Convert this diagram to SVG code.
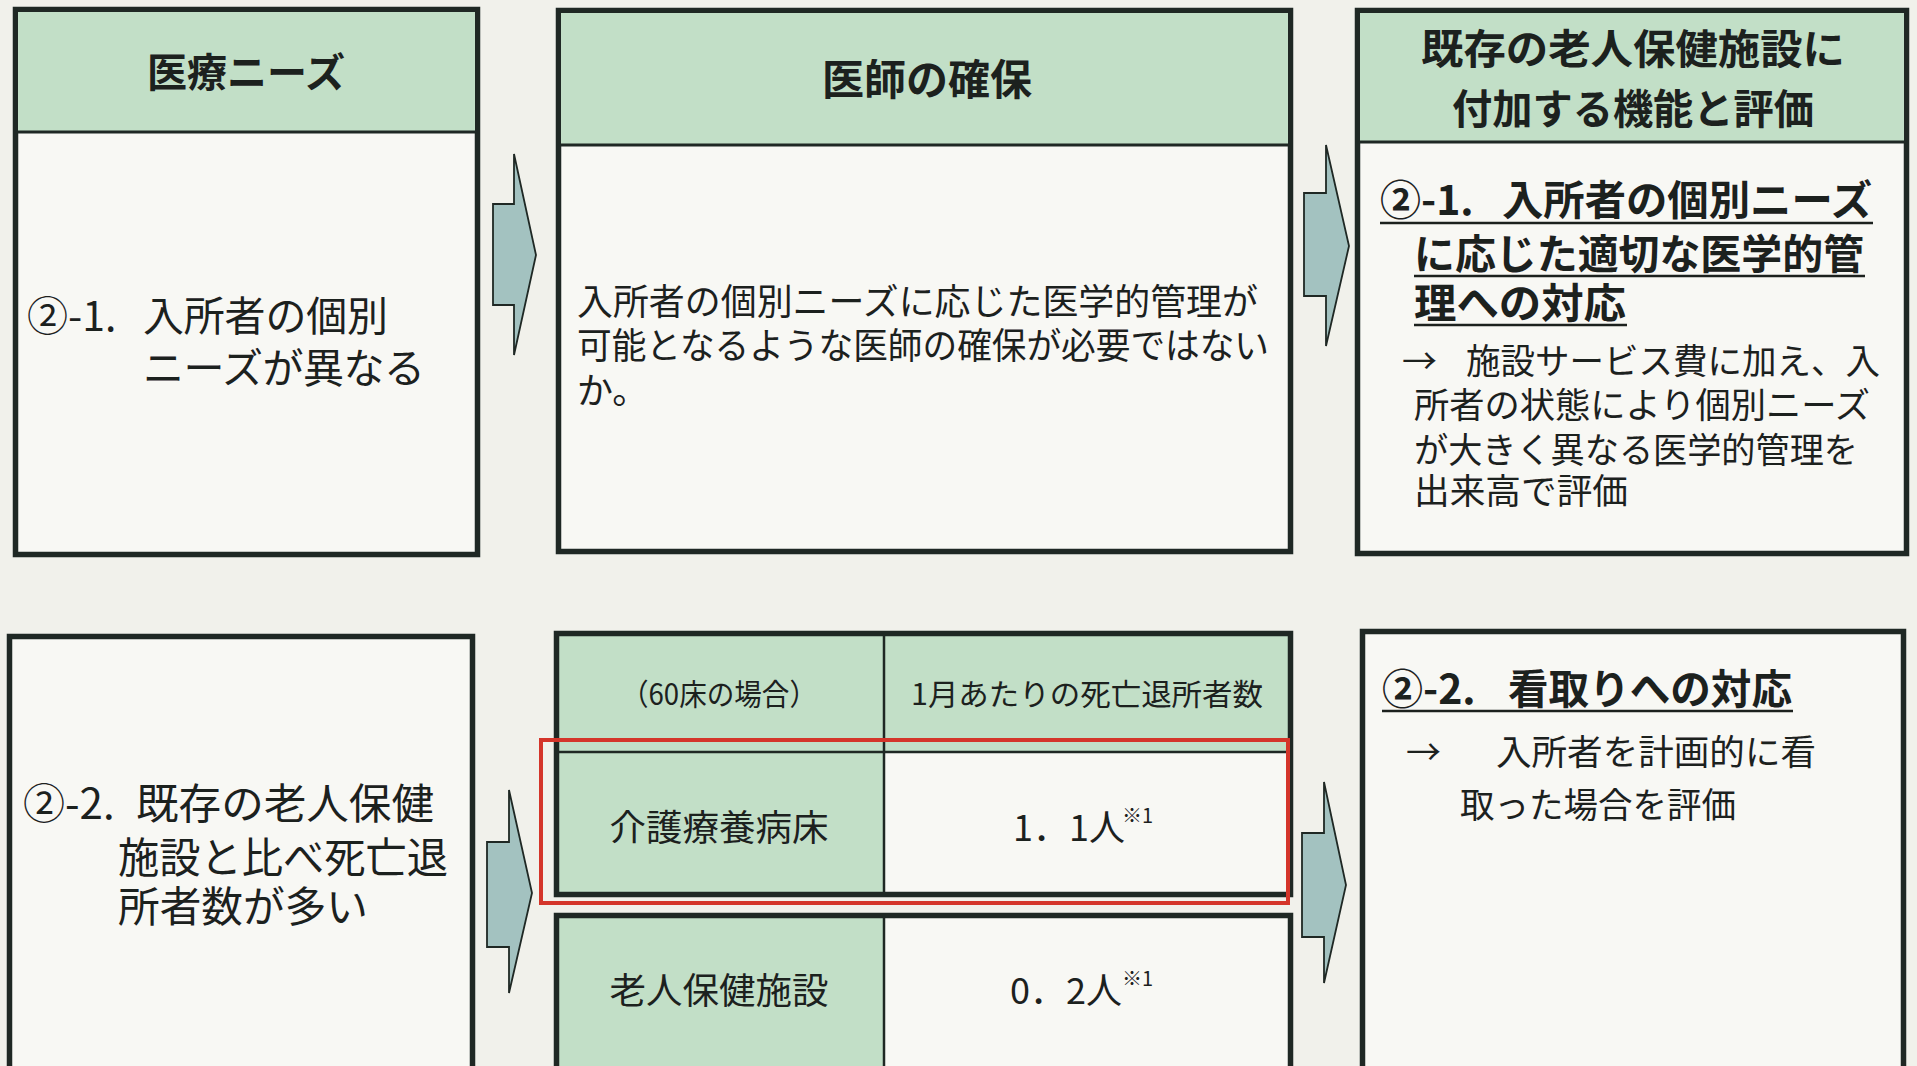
<svg xmlns="http://www.w3.org/2000/svg" width="1917" height="1066" viewBox="0 0 1917 1066">
<style>
text{font-family:"Noto Sans CJK JP","Noto Sans CJK SC",sans-serif;fill:#1c211e}
.box{fill:#f8f8f4;stroke:#1f2824;stroke-width:5.5}
.hdr{fill:#c2dfc7}
.div{stroke:#1f2824;stroke-width:3}
.thin{stroke:#1f2824;stroke-width:2.5}
.h{font-weight:bold;text-anchor:middle}
.b{font-weight:bold}
.ul{stroke:#1c211e;stroke-width:2.5}
.arrow{fill:#a3c2c0;stroke:#1f2824;stroke-width:1.8;stroke-linejoin:miter}
.cell{text-anchor:middle}
</style>
<rect x="0" y="0" width="1917" height="1066" fill="#f1f1eb"/>

<g id="node-needs1">
<rect class="box" x="15.5" y="9.5" width="462" height="545"/>
<rect class="hdr" x="18" y="12" width="457" height="119"/>
<line class="div" x1="15.5" y1="132" x2="477.5" y2="132"/>
<text class="h" x="246" y="87" font-size="40">医療ニーズ</text>
<text font-size="41"><tspan x="27" y="331">②-1.</tspan><tspan x="143" y="331" textLength="245">入所者の個別</tspan><tspan x="143" y="383" textLength="282">ニーズが異なる</tspan></text>
</g>

<g id="node-doctor">
<rect class="box" x="558.5" y="10.5" width="732" height="541"/>
<rect class="hdr" x="561" y="13" width="727" height="131"/>
<line class="div" x1="558.5" y1="145" x2="1290.5" y2="145"/>
<text class="h" x="927" y="95" font-size="42">医師の確保</text>
<text font-size="36"><tspan x="577" y="315" textLength="681" lengthAdjust="spacingAndGlyphs">入所者の個別ニーズに応じた医学的管理が</tspan><tspan x="577" y="359" textLength="692" lengthAdjust="spacingAndGlyphs">可能となるような医師の確保が必要ではない</tspan><tspan x="577" y="404">か。</tspan></text>
</g>

<g id="node-function1">
<rect class="box" x="1357.5" y="10.5" width="549" height="543"/>
<rect class="hdr" x="1360" y="13" width="544" height="128"/>
<line class="div" x1="1357.5" y1="142" x2="1906.5" y2="142"/>
<text class="h" x="1633" y="64" font-size="41" textLength="424" lengthAdjust="spacingAndGlyphs">既存の老人保健施設に</text>
<text class="h" x="1633" y="124" font-size="41" textLength="362" lengthAdjust="spacingAndGlyphs">付加する機能と評価</text>
<text class="b" font-size="41"><tspan x="1380" y="215">②-1.</tspan><tspan x="1502" y="215" textLength="370" lengthAdjust="spacingAndGlyphs">入所者の個別ニーズ</tspan><tspan x="1414" y="269" textLength="450" lengthAdjust="spacingAndGlyphs">に応じた適切な医学的管</tspan><tspan x="1414" y="318" textLength="212" lengthAdjust="spacingAndGlyphs">理への対応</tspan></text>
<line class="ul" x1="1380" y1="223" x2="1873" y2="223"/>
<line class="ul" x1="1414" y1="276" x2="1865" y2="276"/>
<line class="ul" x1="1414" y1="325" x2="1627" y2="325"/>
<text font-size="35"><tspan x="1402" y="374">→</tspan><tspan x="1466" y="374" textLength="414" lengthAdjust="spacingAndGlyphs">施設サービス費に加え、入</tspan><tspan x="1414" y="418" textLength="456" lengthAdjust="spacingAndGlyphs">所者の状態により個別ニーズ</tspan><tspan x="1414" y="463" textLength="444" lengthAdjust="spacingAndGlyphs">が大きく異なる医学的管理を</tspan><tspan x="1414" y="504" textLength="214" lengthAdjust="spacingAndGlyphs">出来高で評価</tspan></text>
</g>

<g id="node-needs2">
<rect class="box" x="9.5" y="636.5" width="463" height="450"/>
<text font-size="42"><tspan x="23" y="819">②-2.</tspan><tspan x="136" y="819" textLength="298" lengthAdjust="spacingAndGlyphs">既存の老人保健</tspan><tspan x="118" y="873" textLength="330" lengthAdjust="spacingAndGlyphs">施設と比べ死亡退</tspan><tspan x="118" y="922" textLength="250" lengthAdjust="spacingAndGlyphs">所者数が多い</tspan></text>
</g>

<g id="node-table">
<rect x="556.5" y="633.5" width="734" height="261" fill="#f8f8f4"/>
<rect class="hdr" x="556.5" y="633.5" width="734" height="118.5"/>
<rect class="hdr" x="556.5" y="752" width="327.5" height="142.5"/>
<rect x="556.5" y="633.5" width="734" height="261" fill="none" stroke="#1f2824" stroke-width="5.5"/>
<line class="thin" x1="556.5" y1="752" x2="1290.5" y2="752"/>
<line class="thin" x1="884" y1="633.5" x2="884" y2="894.5"/>
<text class="cell" x="719" y="705" font-size="30" textLength="196" lengthAdjust="spacingAndGlyphs">（60床の場合）</text>
<text class="cell" x="1087" y="705" font-size="30" textLength="352" lengthAdjust="spacingAndGlyphs">1月あたりの死亡退所者数</text>
<text class="cell" x="719" y="841" font-size="36" textLength="219" lengthAdjust="spacingAndGlyphs">介護療養病床</text>
<text x="1013" y="841" font-size="36">1．1人</text>
<text x="1122" y="823" font-size="20">※1</text>
<rect x="556.5" y="915.5" width="734" height="200" fill="#f8f8f4"/>
<rect class="hdr" x="556.5" y="915.5" width="327.5" height="200"/>
<rect x="556.5" y="915.5" width="734" height="200" fill="none" stroke="#1f2824" stroke-width="5.5"/>
<line class="thin" x1="884" y1="915.5" x2="884" y2="1066"/>
<text class="cell" x="719" y="1004" font-size="36" textLength="219" lengthAdjust="spacingAndGlyphs">老人保健施設</text>
<text x="1010" y="1004" font-size="36">0．2人</text>
<text x="1122" y="986" font-size="20">※1</text>
<rect x="541" y="740" width="747" height="163" fill="none" stroke="#d4352a" stroke-width="4"/>
</g>

<g id="node-function2">
<rect class="box" x="1362.5" y="631.5" width="541" height="450"/>
<text class="b" font-size="41"><tspan x="1382" y="704">②-2.</tspan><tspan x="1508" y="704" textLength="284" lengthAdjust="spacingAndGlyphs">看取りへの対応</tspan></text>
<line class="ul" x1="1382" y1="711" x2="1793" y2="711"/>
<text font-size="35"><tspan x="1406" y="765">→</tspan><tspan x="1496" y="765" textLength="320" lengthAdjust="spacingAndGlyphs">入所者を計画的に看</tspan><tspan x="1460" y="818" textLength="276" lengthAdjust="spacingAndGlyphs">取った場合を評価</tspan></text>
</g>

<g id="connectors">
<polygon class="arrow" points="493,204 514,204 514,154 536,255 514,355 514,305 493,305"/>
<polygon class="arrow" points="1304,193 1326,193 1326,145 1349,246 1326,346 1326,296 1304,296"/>
<polygon class="arrow" points="487,842 509,842 509,790 532,893 509,993 509,947 487,947"/>
<polygon class="arrow" points="1302,833 1324,833 1324,782 1346,885 1324,983 1324,937 1302,937"/>
</g>
</svg>
